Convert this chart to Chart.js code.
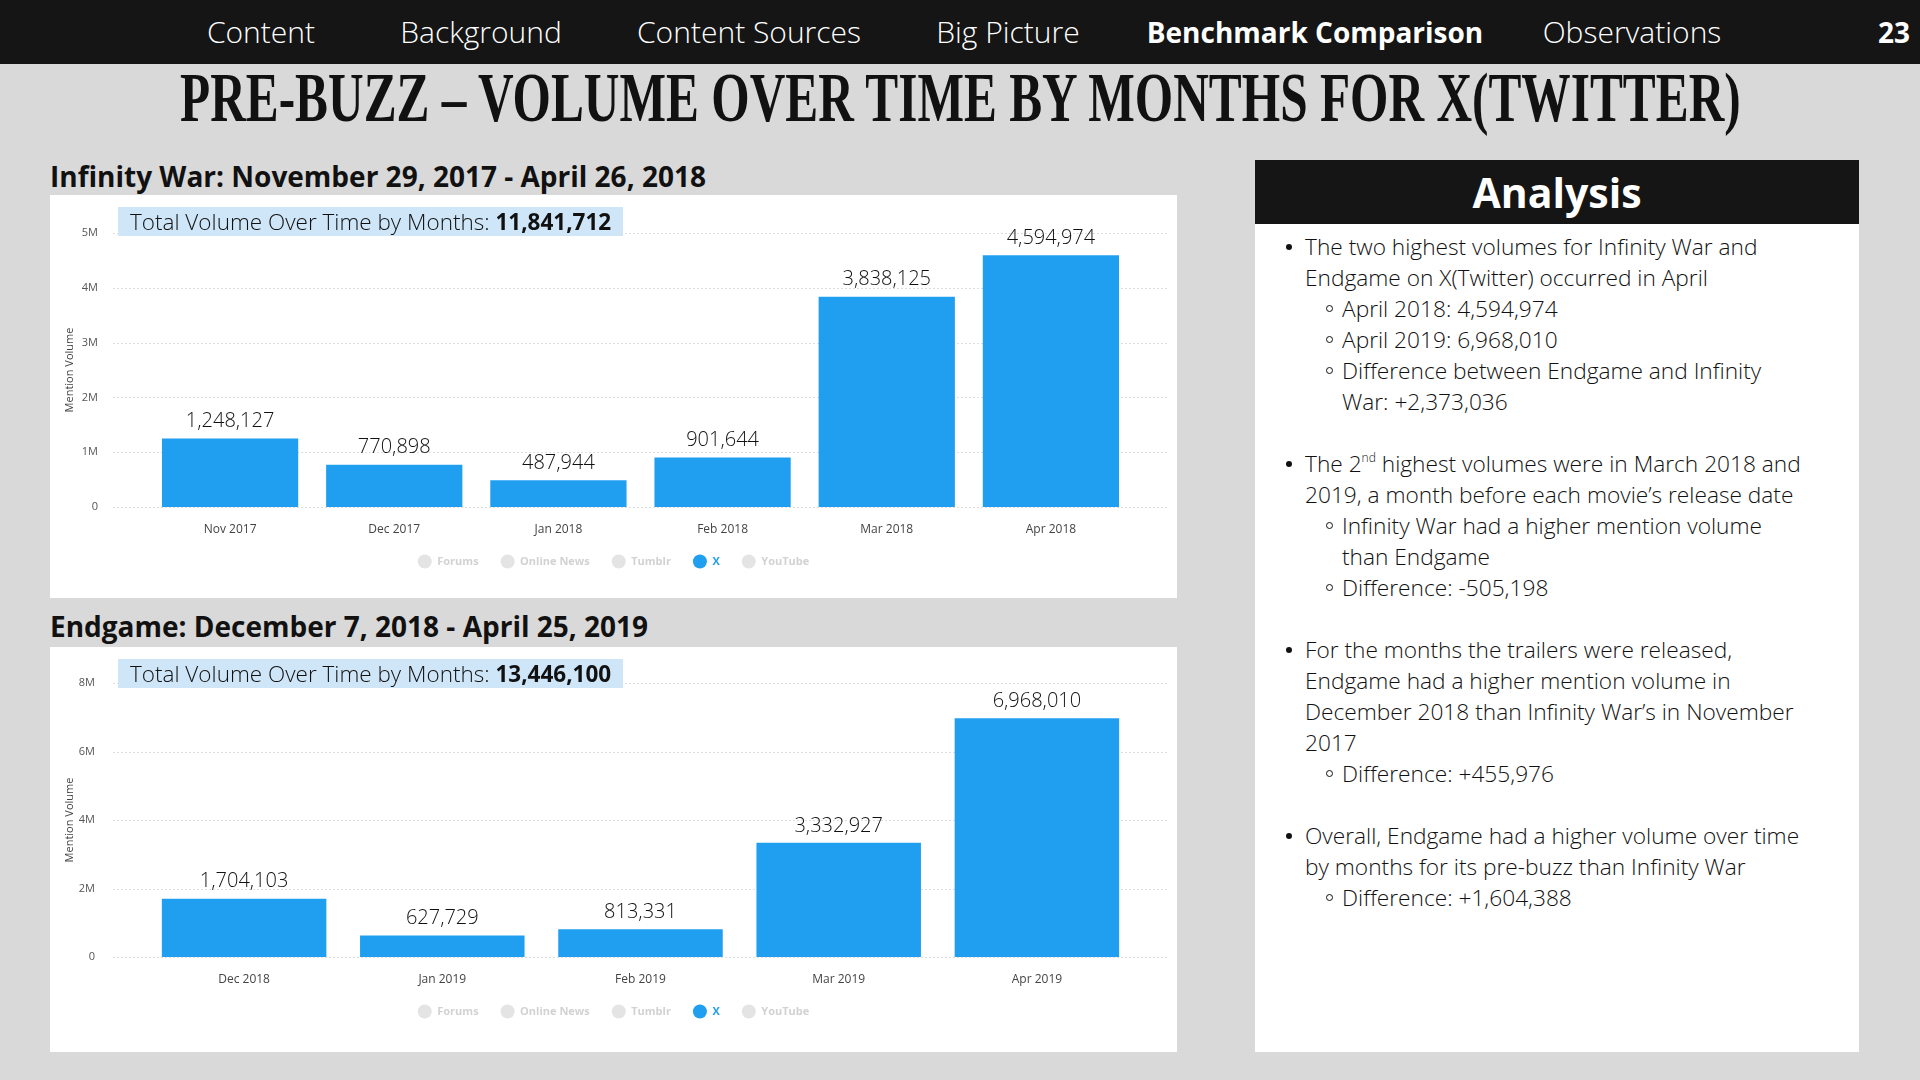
<!DOCTYPE html>
<html>
<head>
<meta charset="utf-8">
<script src="https://cdn.jsdelivr.net/npm/chart.js@4.4.1/dist/chart.umd.min.js"></script>
<style>
  body { margin: 0; width: 1920px; height: 1080px; background: #d9d9d9; position: relative; overflow: hidden; font-family: "Open Sans", sans-serif; color: #111; }
  .topbar { position: absolute; left: 0; top: 0; width: 1920px; height: 64px; background: #151515; }
  .nav { position: absolute; top: 0; line-height: 64px; color: #fff; font-size: 30px; font-weight: 300; white-space: nowrap; transform: translateX(-50%); }
  .nav.on { font-weight: 700; font-size: 28px; }
  #title { position: absolute; left: 960px; top: 64px; font-family: "Liberation Serif", serif; font-weight: 700; font-size: 69px; line-height: 69px; white-space: nowrap; transform-origin: 0 0; }
  .head { position: absolute; left: 50px; font-size: 28px; font-weight: 700; white-space: nowrap; line-height: 30px; }
  .panel { position: absolute; left: 50px; width: 1127px; background: #fff; }
  .panel canvas { position: absolute; left: 0; top: 0; }
  .total { position: absolute; left: 68px; background: #cfe6f8; padding: 0 12px; height: 29px; line-height: 29px; font-size: 22.5px; font-weight: 300; white-space: nowrap; color: #111; }
  .total b { font-weight: 700; }
  #analysis { position: absolute; left: 1255px; top: 160px; width: 604px; height: 892px; background: #fff; }
  #analysis .hd { height: 64px; background: #151515; color: #fff; font-size: 41px; font-weight: 700; text-align: center; line-height: 64px; }
  #lines { position: absolute; left: 50px; top: 71px; font-size: 22.7px; font-weight: 300; line-height: 31px; white-space: nowrap; }
  #lines div { position: relative; height: 31px; }
  #lines .b::before { content: ""; position: absolute; left: -19px; top: 13px; width: 6px; height: 6px; border-radius: 50%; background: #111; }
  #lines .s { padding-left: 37px; }
  #lines .s::before { content: ""; position: absolute; left: 21px; top: 12px; width: 5px; height: 5px; border-radius: 50%; border: 1px solid #111; }
  #lines .c { padding-left: 37px; }
  sup { font-size: 12px; line-height: 0; vertical-align: 10px; }
</style>
</head>
<body>
<div class="topbar"></div>
<div class="nav" style="left:261px">Content</div>
<div class="nav" style="left:481px">Background</div>
<div class="nav" style="left:749px">Content Sources</div>
<div class="nav" style="left:1008px">Big Picture</div>
<div class="nav on" style="left:1315px">Benchmark Comparison</div>
<div class="nav" style="left:1632px">Observations</div>
<div class="nav on" style="left:1894px">23</div>

<div id="title">PRE-BUZZ – VOLUME OVER TIME BY MONTHS FOR X(TWITTER)</div>

<div class="head" style="top:161px">Infinity War: November 29, 2017 - April 26, 2018</div>
<div class="panel" style="top:195px;height:403px">
  <canvas id="iwChart" width="1127" height="403"></canvas>
  <div class="total" id="iwTotal" style="top:12px"></div>
</div>

<div class="head" style="top:611px">Endgame: December 7, 2018 - April 25, 2019</div>
<div class="panel" style="top:647px;height:405px">
  <canvas id="egChart" width="1127" height="405"></canvas>
  <div class="total" id="egTotal" style="top:12px"></div>
</div>

<div id="analysis">
  <div class="hd">Analysis</div>
  <div id="lines">
    <div class="b">The two highest volumes for Infinity War and</div>
    <div>Endgame on X(Twitter) occurred in April</div>
    <div class="s">April 2018: 4,594,974</div>
    <div class="s">April 2019: 6,968,010</div>
    <div class="s">Difference between Endgame and Infinity</div>
    <div class="c">War: +2,373,036</div>
    <div></div>
    <div class="b">The 2<sup>nd</sup> highest volumes were in March 2018 and</div>
    <div>2019, a month before each movie’s release date</div>
    <div class="s">Infinity War had a higher mention volume</div>
    <div class="c">than Endgame</div>
    <div class="s">Difference: -505,198</div>
    <div></div>
    <div class="b">For the months the trailers were released,</div>
    <div>Endgame had a higher mention volume in</div>
    <div>December 2018 than Infinity War’s in November</div>
    <div>2017</div>
    <div class="s">Difference: +455,976</div>
    <div></div>
    <div class="b">Overall, Endgame had a higher volume over time</div>
    <div>by months for its pre-buzz than Infinity War</div>
    <div class="s">Difference: +1,604,388</div>
  </div>
</div>

<script>
// Data
const sources = ['Forums', 'Online News', 'Tumblr', 'X', 'YouTube'];
const iwMonths = ['Nov 2017', 'Dec 2017', 'Jan 2018', 'Feb 2018', 'Mar 2018', 'Apr 2018'];
const iwVolume = [1248127, 770898, 487944, 901644, 3838125, 4594974];
const egMonths = ['Dec 2018', 'Jan 2019', 'Feb 2019', 'Mar 2019', 'Apr 2019'];
const egVolume = [1704103, 627729, 813331, 3332927, 6968010];
const iwTicks = [0, 1000000, 2000000, 3000000, 4000000, 5000000];
const egTicks = [0, 2000000, 4000000, 6000000, 8000000];

const blue = '#209ff0';
const fmt = n => n.toLocaleString('en-US');

// squeeze the title to the width of the condensed face
const title = document.getElementById('title');
title.style.transform = 'translateX(-780px) scaleX(' + (1561 / title.offsetWidth) + ')';

// totals
document.getElementById('iwTotal').innerHTML = 'Total Volume Over Time by Months: <b>' + fmt(iwVolume.reduce((a, b) => a + b, 0)) + '</b>';
document.getElementById('egTotal').innerHTML = 'Total Volume Over Time by Months: <b>' + fmt(egVolume.reduce((a, b) => a + b, 0)) + '</b>';

// dotted grid lines, wider than the bar area
const dottedGrid = {
  id: 'dottedGrid',
  beforeDatasetsDraw(chart, args, opts) {
    const ctx = chart.ctx;
    const y = chart.scales.y;
    ctx.save();
    ctx.strokeStyle = '#dedede';
    ctx.lineWidth = 1;
    ctx.setLineDash([2, 2]);
    y.ticks.forEach(t => {
      const py = Math.round(y.getPixelForValue(t.value)) + 0.5;
      ctx.beginPath();
      ctx.moveTo(opts.from, py);
      ctx.lineTo(opts.to, py);
      ctx.stroke();
    });
    ctx.restore();
  }
};

// value labels above the bars
const valueLabels = {
  id: 'valueLabels',
  afterDatasetsDraw(chart) {
    const ctx = chart.ctx;
    chart.data.datasets.forEach((ds, i) => {
      const meta = chart.getDatasetMeta(i);
      if (meta.hidden || ds.hidden) return;
      ctx.save();
      ctx.font = '300 20px "Open Sans"';
      ctx.fillStyle = '#111';
      ctx.textAlign = 'center';
      ctx.textBaseline = 'middle';
      meta.data.forEach((bar, j) => {
        ctx.fillText(fmt(ds.data[j]), bar.x, bar.y - 17);
      });
      ctx.restore();
    });
  }
};

// move the legend up a little, closer to the month labels
const legendNudge = {
  id: 'legendNudge',
  afterLayout(chart, args, opts) {
    chart.legend.top += opts.dy;
    chart.legend.bottom += opts.dy;
  }
};

function makeChart(id, months, values, ticks, g) {
  const ctx = document.getElementById(id).getContext('2d');
  return new Chart(ctx, {
    type: 'bar',
    data: {
      labels: months,
      datasets: sources.map(s => ({
        label: s,
        data: s === 'X' ? values : [],
        hidden: s !== 'X',
        backgroundColor: blue,
        barPercentage: 0.83,
        categoryPercentage: 1
      }))
    },
    options: {
      responsive: false,
      animation: false,
      layout: { padding: { left: 0, right: 0, top: g.top, bottom: g.bottom } },
      scales: {
        x: {
          grid: { display: false, drawTicks: false },
          border: { display: false },
          ticks: { color: '#444', font: { size: 12, family: 'Open Sans' }, padding: 15 },
          afterFit(s) { s.height = 32; }
        },
        y: {
          min: 0,
          max: ticks[ticks.length - 1],
          afterBuildTicks(s) { s.ticks = ticks.map(v => ({ value: v })); },
          grid: { display: false, drawTicks: false },
          border: { display: false },
          ticks: {
            color: '#555',
            font: { size: 11, family: 'Open Sans' },
            padding: 50,
            callback: v => v === 0 ? '0' : (v / 1000000) + 'M'
          },
          title: { display: true, text: 'Mention Volume', color: '#444', font: { size: 11, family: 'Open Sans' }, padding: { top: 13, bottom: 0 } },
          afterFit(s) {
            s.width = g.left;
            s.paddingTop = 7;
            s.paddingBottom = 7;
          }
        },
        // empty right-hand spacer so the legend stays centred on the panel
        y2: {
          position: 'right',
          grid: { display: false, drawTicks: false },
          border: { display: false },
          ticks: { display: false },
          afterFit(s) { s.width = g.right; }
        }
      },
      plugins: {
        tooltip: { enabled: false },
        dottedGrid: { from: 63, to: 1119 },
        legendNudge: { dy: -5 },
        legend: {
          position: 'bottom',
          labels: {
            usePointStyle: true,
            pointStyleWidth: 14,
            boxWidth: 10,
            boxHeight: 10,
            padding: 22,
            font: { size: 11, weight: 'bold', family: 'Open Sans' },
            generateLabels(chart) {
              return chart.data.datasets.map((ds, i) => ({
                text: ds.label,
                fillStyle: ds.label === 'X' ? blue : '#e4e4e4',
                strokeStyle: ds.label === 'X' ? blue : '#e4e4e4',
                lineWidth: 0,
                fontColor: ds.label === 'X' ? blue : '#d2d2d2',
                pointStyle: 'circle',
                hidden: false,
                datasetIndex: i
              }));
            }
          }
        }
      }
    },
    plugins: [dottedGrid, valueLabels, legendNudge]
  });
}

makeChart('iwChart', iwMonths, iwVolume, iwTicks, { left: 98, right: 44, top: 38, bottom: 16 });
makeChart('egChart', egMonths, egVolume, egTicks, { left: 95, right: 41, top: 36, bottom: 20 });
</script>
</body>
</html>
